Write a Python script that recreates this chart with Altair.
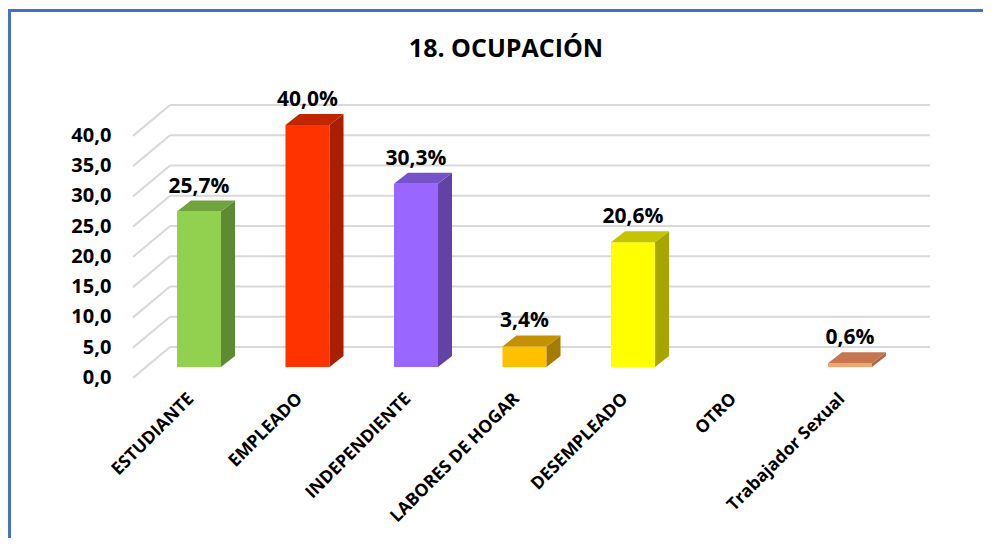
import altair as alt
import pandas as pd

# ---------------- data ----------------
categories = ["ESTUDIANTE", "EMPLEADO", "INDEPENDIENTE", "LABORES DE HOGAR",
              "DESEMPLEADO", "OTRO", "Trabajador Sexual"]
values = [25.7, 40.0, 30.3, 3.4, 20.6, 0.0, 0.6]
value_labels = ["25,7%", "40,0%", "30,3%", "3,4%", "20,6%", "", "0,6%"]
front_colors = ["#92D050", "#FF3300", "#9966FF", "#FFC000", "#FFFF00", "#CCCCCC", "#F4A46E"]
side_colors = ["#5E8A34", "#A82000", "#6342A6", "#A67C00", "#A6A600", "#888888", "#B06848"]
top_colors = ["#70A23E", "#C02600", "#7652C8", "#C49200", "#C4C400", "#AAAAAA", "#C47650"]
tick_values = [0, 5, 10, 15, 20, 25, 30, 35, 40]
tick_labels = ["0,0", "5,0", "10,0", "15,0", "20,0", "25,0", "30,0", "35,0", "40,0"]
title_text = "18. OCUPACIÓN"

# ---------------- geometry (style) ----------------
W, H = 975, 530
PX_X = 108.5          # px per category
PX_Y = 6.05           # px per percentage unit
X0 = -191 / PX_X
Y_TOP = 359 / PX_Y
XDOM = [X0, X0 + W / PX_X]
YDOM = [Y_TOP - H / PX_Y, Y_TOP]
HW = 0.203            # half bar width (category units)
DX = 0.129            # depth x
DY = 1.82             # depth y (value units)
GB, GF = 3.3, -1.8    # back / front offsets of gridlines
BACK_L, BACK_R, FRONT_L = -0.267, 6.738, -0.608
FONT = "Open Sans"

xs = alt.Scale(domain=XDOM, nice=False, zero=False)
ys = alt.Scale(domain=YDOM, nice=False, zero=False)

bars = pd.DataFrame({
    "i": list(range(len(categories))),
    "cat": categories,
    "v": values,
    "lab": value_labels,
    "front": front_colors,
    "side": side_colors,
    "top": top_colors,
})
bars = bars[bars.v > 0].copy()
bars["xl"] = bars.i - HW
bars["xr"] = bars.i + HW

side_rows, top_rows = [], []
for _, r in bars.iterrows():
    side_rows.append(dict(i=r.i, c=r.side, x=r.i + HW, y=r.v, y2=0.0))
    side_rows.append(dict(i=r.i, c=r.side, x=r.i + HW + DX, y=r.v + DY, y2=DY))
    top_rows.append(dict(i=r.i, c=r.top, y=r.v, x=r.i - HW, x2=r.i + HW))
    top_rows.append(dict(i=r.i, c=r.top, y=r.v + DY, x=r.i - HW + DX, x2=r.i + HW + DX))
side_df = pd.DataFrame(side_rows)
top_df = pd.DataFrame(top_rows)

grid = pd.DataFrame({"g": tick_values, "lab": tick_labels})
grid["yb"] = grid.g + GB
grid["yf"] = grid.g + GF
grid["xbl"] = BACK_L
grid["xbr"] = BACK_R
grid["xfl"] = FRONT_L

cats = pd.DataFrame({"i": list(range(len(categories))), "cat": categories})
cats["xa"] = cats.i - 0.13
cats["ya"] = -3.8

# ---------------- layers ----------------
back_lines = alt.Chart(grid).mark_rule(color="#D9D9D9", strokeWidth=2).encode(
    x=alt.X("xbl:Q", scale=xs, axis=None), x2="xbr:Q",
    y=alt.Y("yb:Q", scale=ys, axis=None))
connectors = alt.Chart(grid).mark_rule(color="#D9D9D9", strokeWidth=2).encode(
    x=alt.X("xfl:Q", scale=xs, axis=None), x2="xbl:Q",
    y=alt.Y("yf:Q", scale=ys, axis=None), y2="yb:Q")
ticks = alt.Chart(grid).mark_text(
    align="right", baseline="middle", font=FONT, fontSize=20, fontWeight="bold",
    color="#000000", dx=0).encode(
    x=alt.value((FRONT_L - 0.2 - X0) * PX_X), y=alt.Y("yf:Q", scale=ys, axis=None),
    text="lab:N")

front = alt.Chart(bars).mark_rect().encode(
    x=alt.X("xl:Q", scale=xs, axis=None), x2="xr:Q",
    y=alt.Y("v:Q", scale=ys, axis=None), y2=alt.datum(0),
    color=alt.Color("front:N", scale=None))
side = alt.Chart(side_df).mark_area().encode(
    x=alt.X("x:Q", scale=xs, axis=None),
    y=alt.Y("y:Q", scale=ys, axis=None), y2="y2:Q",
    detail="i:N", color=alt.Color("c:N", scale=None))
top = alt.Chart(top_df).mark_area(orient="horizontal").encode(
    y=alt.Y("y:Q", scale=ys, axis=None),
    x=alt.X("x:Q", scale=xs, axis=None), x2="x2:Q",
    detail="i:N", color=alt.Color("c:N", scale=None))

vlabels = alt.Chart(bars).mark_text(
    baseline="alphabetic", align="center", dy=-19, font=FONT, fontSize=21,
    fontWeight="bold", color="#000000").encode(
    x=alt.X("i:Q", scale=xs, axis=None), y=alt.Y("v:Q", scale=ys, axis=None),
    text="lab:N")

clabels = alt.Chart(cats).mark_text(
    angle=315, align="right", baseline="top", font=FONT, fontSize=17.5,
    fontWeight="bold", color="#000000").encode(
    x=alt.X("xa:Q", scale=xs, axis=None), y=alt.Y("ya:Q", scale=ys, axis=None),
    text="cat:N")

title = alt.Chart(pd.DataFrame({"t": [title_text]})).mark_text(
    font=FONT, fontSize=25, fontWeight="bold", color="#000000",
    align="center", baseline="alphabetic").encode(
    x=alt.value(498), y=alt.value(49), text="t:N")

border_l = alt.Chart(pd.DataFrame({"a": [0]})).mark_rule(
    color="#4472C4", strokeWidth=3).encode(
    x=alt.value(1.5), y=alt.value(1.5), y2=alt.value(H))
border_t = alt.Chart(pd.DataFrame({"a": [0]})).mark_rule(
    color="#4472C4", strokeWidth=3).encode(
    x=alt.value(0), x2=alt.value(W), y=alt.value(2.5))

chart = alt.layer(
    back_lines, connectors, ticks, front, side, top, vlabels, clabels, title,
    border_l, border_t
).properties(
    width=W, height=H,
    autosize=alt.AutoSizeParams(type="none"),
    padding={"left": 0, "top": 0, "right": 0, "bottom": 0},
    background="#FFFFFF",
).configure_view(stroke=None)

chart.save("out.html", embed_options={"renderer": "svg", "actions": False})
